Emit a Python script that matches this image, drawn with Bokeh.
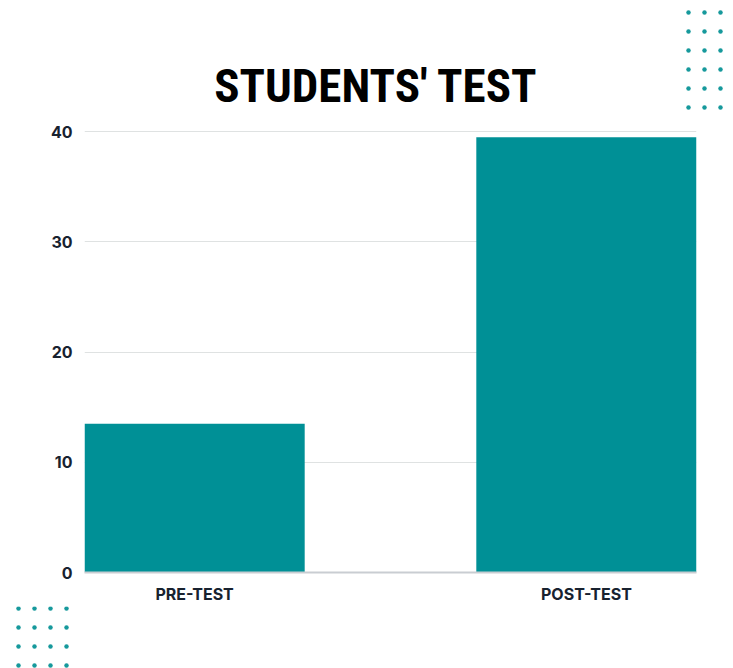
from bokeh.plotting import figure
from bokeh.layouts import column
from bokeh.models import Range1d, FixedTicker, Label
from bokeh.embed import file_html
from bokeh.resources import INLINE

# ---- data ----
categories = ["PRE-TEST", "POST-TEST"]
scores = [13.5, 39.5]
y_ticks = [0, 10, 20, 30, 40]
title_text = "STUDENTS' TEST"

# ---- style ----
BAR = "#009096"
DOT = "#16999c"
INK = "#18222f"
W = 733
H_HEAD, H_MAIN, H_FOOT = 112, 494, 62
LEFT, RIGHT, TOP, BOTTOM = 84, 37, 16, 33
bw = 0.562
TITLE_FONT = "'Noto Sans ExtraCondensed Black', 'Roboto Condensed', 'DejaVu Sans Condensed', sans-serif"


def blank(height):
    f = figure(width=W, height=height, output_backend="svg", toolbar_location=None,
               x_range=Range1d(0, W), y_range=Range1d(height, 0),
               x_axis_location=None, y_axis_location=None,
               min_border=0, frame_align=False)
    f.grid.visible = False
    f.outline_line_color = None
    f.border_fill_color = "white"
    f.background_fill_color = "white"
    return f


def dot_grid(f, x0, y0, ncols, nrows, dx, dy):
    gx = [x0 + i * dx for j in range(nrows) for i in range(ncols)]
    gy = [y0 + j * dy for j in range(nrows) for i in range(ncols)]
    f.scatter(gx, gy, size=4.5, color=DOT, line_color=None)


# ---- header: title + decorative dots ----
head = blank(H_HEAD)
head.add_layout(Label(x=375.5, y=85, text=title_text, text_align="center",
                      text_baseline="middle", text_font=TITLE_FONT,
                      text_font_style="bold", text_font_size="47px",
                      text_color="#000000"))
dot_grid(head, 688, 12, 3, 6, 16, 19)

# ---- main bar chart ----
xs = list(range(len(categories)))
p = figure(width=W, height=H_MAIN, output_backend="svg", toolbar_location=None,
           x_range=Range1d(-bw / 2, len(categories) - 1 + bw / 2),
           y_range=Range1d(0, 40.3), frame_align=False,
           min_border_left=LEFT, min_border_right=RIGHT,
           min_border_top=TOP, min_border_bottom=BOTTOM)
p.outline_line_color = None
p.background_fill_color = "white"
p.border_fill_color = "white"

p.vbar(x=xs, top=scores, width=bw, color=BAR, line_color=None)

p.yaxis.ticker = FixedTicker(ticks=y_ticks)
p.yaxis.axis_line_color = None
p.yaxis.major_tick_line_color = None
p.yaxis.major_tick_out = 0
p.yaxis.minor_tick_line_color = None
p.yaxis.major_label_text_font = "Inter"
p.yaxis.major_label_text_font_style = "bold"
p.yaxis.major_label_text_font_size = "16px"
p.yaxis.major_label_text_color = INK
p.yaxis.major_label_standoff = 12

p.xaxis.ticker = FixedTicker(ticks=xs)
p.xaxis.major_label_overrides = {i: c for i, c in zip(xs, categories)}
p.xaxis.axis_line_color = "#c9cdd2"
p.xaxis.axis_line_width = 2
p.xaxis.major_tick_line_color = None
p.xaxis.major_tick_out = 0
p.xaxis.minor_tick_line_color = None
p.xaxis.major_label_text_font = "Inter"
p.xaxis.major_label_text_font_style = "bold"
p.xaxis.major_label_text_font_size = "16px"
p.xaxis.major_label_text_color = INK
p.xaxis.major_label_standoff = 11

p.xgrid.grid_line_color = None
p.ygrid.ticker = FixedTicker(ticks=y_ticks)
p.ygrid.grid_line_color = "#dfe2e2"
p.ygrid.grid_line_width = 1

# ---- footer: decorative dots ----
foot = blank(H_FOOT)
dot_grid(foot, 18, 2, 4, 4, 16, 19)

layout = column(head, p, foot, spacing=0)
open("out.html", "w").write(file_html(layout, INLINE))
